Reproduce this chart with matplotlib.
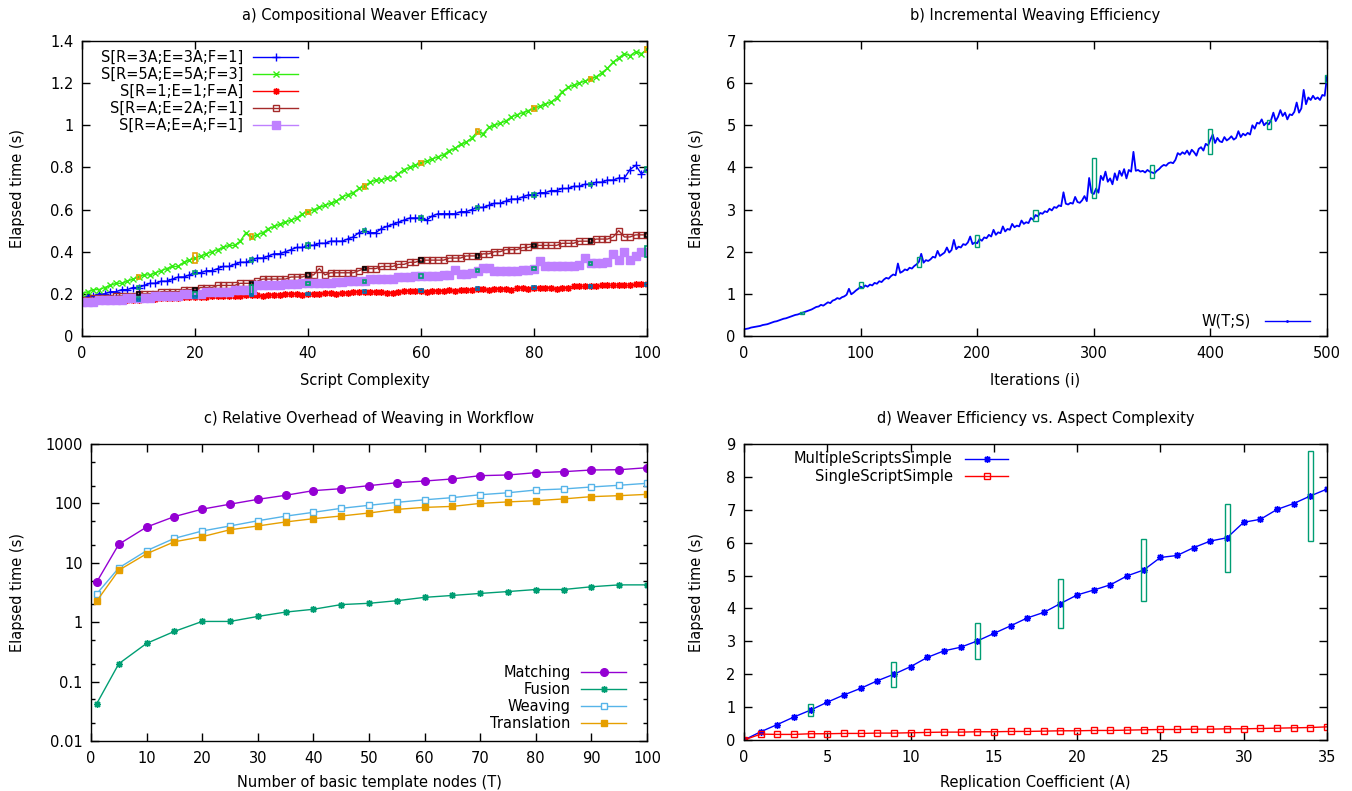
import matplotlib
matplotlib.use("Agg")
import matplotlib.pyplot as plt
import numpy as np
from matplotlib.ticker import FixedLocator, LogLocator, NullFormatter, FuncFormatter

FS = 10.5
plt.rcParams['font.family'] = ['DejaVu Sans']
plt.rcParams['font.size'] = FS

# ---------------- Panel a data ----------------
a_x = list(range(0, 101))
a_labels = ["S[R=3A;E=3A;F=1]", "S[R=5A;E=5A;F=3]", "S[R=1;E=1;F=A]",
            "S[R=A;E=2A;F=1]", "S[R=A;E=A;F=1]"]
a_blue = [0.18,
          0.19, 0.19, 0.20, 0.20, 0.21, 0.21, 0.22, 0.22, 0.23, 0.23,
          0.24, 0.25, 0.25, 0.26, 0.26, 0.27, 0.28, 0.28, 0.29, 0.30,
          0.30, 0.31, 0.31, 0.32, 0.33, 0.33, 0.34, 0.35, 0.35, 0.36,
          0.37, 0.37, 0.38, 0.39, 0.39, 0.40, 0.41, 0.42, 0.42, 0.43,
          0.43, 0.44, 0.44, 0.45, 0.45, 0.45, 0.46, 0.47, 0.49, 0.50,
          0.49, 0.49, 0.51, 0.52, 0.53, 0.54, 0.55, 0.56, 0.56, 0.56,
          0.55, 0.57, 0.58, 0.58, 0.58, 0.58, 0.59, 0.59, 0.60, 0.61,
          0.61, 0.62, 0.63, 0.63, 0.64, 0.65, 0.65, 0.66, 0.67, 0.67,
          0.68, 0.68, 0.69, 0.69, 0.70, 0.70, 0.71, 0.71, 0.72, 0.72,
          0.73, 0.73, 0.74, 0.74, 0.75, 0.75, 0.79, 0.81, 0.77, 0.79]
a_green = [0.20,
           0.21, 0.22, 0.22, 0.23, 0.24, 0.25, 0.25, 0.26, 0.27, 0.28,
           0.29, 0.29, 0.30, 0.31, 0.32, 0.33, 0.33, 0.35, 0.36, 0.37,
           0.38, 0.39, 0.40, 0.41, 0.42, 0.43, 0.43, 0.45, 0.49, 0.47,
           0.48, 0.49, 0.51, 0.52, 0.53, 0.54, 0.55, 0.56, 0.58, 0.59,
           0.60, 0.61, 0.62, 0.63, 0.64, 0.66, 0.67, 0.68, 0.70, 0.71,
           0.73, 0.74, 0.74, 0.75, 0.75, 0.77, 0.79, 0.80, 0.81, 0.82,
           0.83, 0.84, 0.85, 0.86, 0.88, 0.89, 0.91, 0.92, 0.94, 0.97,
           0.96, 0.99, 1.00, 1.01, 1.02, 1.04, 1.05, 1.06, 1.07, 1.08,
           1.09, 1.10, 1.11, 1.13, 1.16, 1.18, 1.19, 1.20, 1.21, 1.22,
           1.23, 1.25, 1.27, 1.30, 1.32, 1.34, 1.33, 1.35, 1.34, 1.36]
a_red = [0.16,
         0.16, 0.16, 0.165, 0.165, 0.165, 0.17, 0.17, 0.17, 0.17, 0.17,
         0.175, 0.175, 0.175, 0.18, 0.18, 0.18, 0.18, 0.185, 0.185, 0.185,
         0.185, 0.185, 0.19, 0.19, 0.19, 0.19, 0.19, 0.19, 0.195, 0.195,
         0.195, 0.19, 0.195, 0.195, 0.195, 0.20, 0.20, 0.20, 0.195, 0.20,
         0.20, 0.20, 0.205, 0.205, 0.20, 0.205, 0.205, 0.21, 0.21, 0.21,
         0.21, 0.21, 0.21, 0.205, 0.205, 0.21, 0.215, 0.215, 0.215, 0.215,
         0.21, 0.215, 0.215, 0.215, 0.22, 0.215, 0.22, 0.22, 0.22, 0.225,
         0.225, 0.22, 0.225, 0.225, 0.225, 0.22, 0.23, 0.23, 0.225, 0.23,
         0.23, 0.23, 0.23, 0.225, 0.23, 0.23, 0.235, 0.235, 0.235, 0.235,
         0.235, 0.24, 0.24, 0.24, 0.24, 0.24, 0.24, 0.245, 0.245, 0.245]
a_brown = [0.17,
           0.17, 0.18, 0.18, 0.18, 0.18, 0.19, 0.19, 0.19, 0.19, 0.20,
           0.20, 0.20, 0.20, 0.21, 0.21, 0.21, 0.21, 0.22, 0.22, 0.22,
           0.23, 0.23, 0.23, 0.24, 0.24, 0.24, 0.24, 0.25, 0.25, 0.25,
           0.26, 0.27, 0.27, 0.27, 0.27, 0.27, 0.28, 0.28, 0.28, 0.29,
           0.29, 0.32, 0.29, 0.30, 0.30, 0.30, 0.30, 0.30, 0.31, 0.32,
           0.32, 0.32, 0.33, 0.33, 0.33, 0.34, 0.34, 0.35, 0.35, 0.36,
           0.36, 0.36, 0.36, 0.36, 0.37, 0.37, 0.37, 0.38, 0.38, 0.38,
           0.39, 0.39, 0.40, 0.40, 0.41, 0.41, 0.41, 0.42, 0.42, 0.43,
           0.43, 0.43, 0.43, 0.43, 0.44, 0.44, 0.44, 0.45, 0.45, 0.45,
           0.46, 0.46, 0.46, 0.47, 0.50, 0.47, 0.47, 0.48, 0.48, 0.48]
a_purple = [0.16,
            0.16, 0.16, 0.17, 0.17, 0.17, 0.17, 0.17, 0.18, 0.18, 0.18,
            0.18, 0.18, 0.19, 0.19, 0.19, 0.19, 0.19, 0.20, 0.20, 0.20,
            0.20, 0.21, 0.21, 0.21, 0.21, 0.21, 0.22, 0.22, 0.22, 0.22,
            0.24, 0.24, 0.24, 0.24, 0.24, 0.245, 0.245, 0.245, 0.25, 0.25,
            0.25, 0.25, 0.25, 0.25, 0.255, 0.255, 0.26, 0.26, 0.26, 0.26,
            0.27, 0.27, 0.27, 0.27, 0.27, 0.28, 0.28, 0.28, 0.285, 0.285,
            0.285, 0.285, 0.285, 0.29, 0.29, 0.315, 0.295, 0.295, 0.30, 0.31,
            0.325, 0.325, 0.31, 0.31, 0.31, 0.31, 0.31, 0.315, 0.315, 0.32,
            0.355, 0.33, 0.33, 0.33, 0.33, 0.33, 0.33, 0.335, 0.37, 0.345,
            0.345, 0.345, 0.35, 0.39, 0.36, 0.40, 0.36, 0.38, 0.40, 0.40]
a_candle_x = [10, 20, 30, 40, 50, 60, 70, 80, 90, 100]
a_green_spread = [0.010, 0.022, 0.012, 0.010, 0.010, 0.010, 0.010, 0.010, 0.010, 0.010]
a_blue_spread = [0.008, 0.008, 0.010, 0.010, 0.008, 0.008, 0.008, 0.008, 0.008, 0.010]
a_brown_spread = [0.007, 0.008, 0.008, 0.008, 0.008, 0.008, 0.008, 0.008, 0.008, 0.008]
a_purple_spread = [0.006, 0.008, 0.020, 0.008, 0.008, 0.008, 0.008, 0.008, 0.008, 0.025]
a_red_spread = [0.006, 0.006, 0.006, 0.006, 0.006, 0.006, 0.006, 0.006, 0.006, 0.006]

# ---------------- Panel b data ----------------
b_iter = list(range(0, 501, 2))
b_time = [
    0.16, 0.17, 0.18, 0.20, 0.21, 0.22, 0.23, 0.24, 0.26, 0.27, 0.28, 0.30, 0.32, 0.34, 0.35, 0.37, 0.39, 0.41, 0.42, 0.44, 0.46, 0.48, 0.50, 0.51, 0.53,
    0.55, 0.57, 0.59, 0.61, 0.63, 0.66, 0.69, 0.70, 0.74, 0.72, 0.76, 0.80, 0.78, 0.84, 0.86, 0.90, 0.88, 0.92, 0.94, 0.98, 1.12, 0.99, 1.03, 1.08, 1.12,
    1.17, 1.14, 1.20, 1.17, 1.22, 1.20, 1.26, 1.24, 1.30, 1.28, 1.34, 1.38, 1.36, 1.42, 1.46, 1.44, 1.72, 1.50, 1.53, 1.58, 1.56, 1.62, 1.60, 1.66, 1.70,
    1.76, 1.95, 1.74, 1.80, 1.78, 1.82, 1.88, 1.86, 2.02, 1.90, 1.94, 1.98, 2.10, 1.98, 2.04, 2.28, 2.06, 2.12, 2.10, 2.18, 2.16, 2.22, 2.36, 2.18, 2.22,
    2.20, 2.30, 2.26, 2.34, 2.32, 2.40, 2.36, 2.52, 2.40, 2.46, 2.44, 2.60, 2.48, 2.54, 2.52, 2.66, 2.58, 2.62, 2.60, 2.74, 2.66, 2.70, 2.68, 2.80, 2.76,
    2.87, 2.84, 2.92, 2.90, 2.96, 2.94, 3.02, 2.98, 3.06, 3.04, 3.10, 3.08, 3.41, 3.14, 3.12, 3.16, 3.14, 3.30, 3.18, 3.16, 3.22, 3.32, 3.20, 3.75, 3.40,
    3.37, 3.50, 3.40, 3.80, 3.70, 3.90, 3.66, 3.74, 3.60, 3.86, 3.70, 3.92, 3.80, 3.96, 3.74, 3.94, 3.90, 4.37, 3.92, 3.94, 3.90, 3.92, 3.88, 3.94, 3.90,
    3.88, 3.86, 3.92, 3.96, 4.02, 4.06, 4.04, 4.10, 4.12, 4.10, 4.18, 4.34, 4.30, 4.36, 4.32, 4.40, 4.30, 4.42, 4.36, 4.28, 4.44, 4.48, 4.40, 4.56, 4.52,
    4.66, 4.78, 4.58, 4.70, 4.62, 4.60, 4.72, 4.64, 4.68, 4.74, 4.66, 4.70, 4.86, 4.72, 4.80, 4.76, 4.82, 4.78, 5.00, 4.92, 5.06, 5.04, 5.14, 5.00, 5.06,
    5.02, 5.12, 5.30, 5.10, 5.20, 5.36, 5.22, 5.30, 5.14, 5.26, 5.24, 5.32, 5.54, 5.30, 5.40, 5.84, 5.50, 5.66, 5.60, 5.70, 5.62, 5.66, 5.60, 5.72, 5.70,
    6.15]
b_candle_x = [50, 100, 150, 200, 250, 300, 350, 400, 450, 500]
b_candle_lo = [0.53, 1.13, 1.63, 2.12, 2.74, 3.27, 3.75, 4.32, 4.90, 6.03]
b_candle_hi = [0.58, 1.29, 1.88, 2.40, 2.99, 4.22, 4.06, 4.90, 5.12, 6.19]

# ---------------- Panel c data ----------------
c_nodes = [1, 5, 10, 15, 20, 25, 30, 35, 40, 45, 50, 55, 60, 65, 70, 75, 80, 85, 90, 95, 100]
c_matching = [4.7, 20.5, 40, 60, 80, 97, 117, 137, 164, 177, 199, 223, 238, 258, 293, 301, 329, 342, 365, 369, 399]
c_fusion = [0.042, 0.20, 0.44, 0.70, 1.03, 1.03, 1.25, 1.48, 1.65, 1.98, 2.08, 2.30, 2.62, 2.82, 3.05, 3.28, 3.55, 3.55, 3.95, 4.25, 4.25]
c_weaving = [2.98, 8.2, 16, 25.8, 34.3, 41.7, 51, 61, 70.8, 82.6, 92.9, 104, 115, 125, 140, 151, 168, 175, 189, 202, 218]
c_translation = [2.25, 7.5, 14.2, 22.6, 27.5, 36, 41.7, 48.7, 55.3, 61.4, 68.9, 79.3, 85.7, 89, 100, 106, 111, 119, 130, 135, 142]
c_labels = ["Matching", "Fusion", "Weaving", "Translation"]

# ---------------- Panel d data ----------------
d_A = list(range(0, 36))
d_multiple = [0.0, 0.25, 0.47, 0.70, 0.91, 1.15, 1.37, 1.57, 1.80, 2.00,
              2.23, 2.51, 2.71, 2.82, 3.01, 3.24, 3.47, 3.71, 3.88, 4.15,
              4.41, 4.56, 4.72, 4.99, 5.17, 5.55, 5.61, 5.85, 6.05, 6.15,
              6.62, 6.71, 7.01, 7.19, 7.42, 7.63]
d_single = [0.0, 0.18, 0.17, 0.17, 0.19, 0.19, 0.20, 0.20, 0.21, 0.21,
            0.22, 0.23, 0.24, 0.24, 0.25, 0.25, 0.26, 0.26, 0.27, 0.28,
            0.28, 0.29, 0.29, 0.30, 0.31, 0.32, 0.32, 0.33, 0.33, 0.34,
            0.34, 0.35, 0.36, 0.37, 0.38, 0.40]
d_candle_x = [4, 9, 14, 19, 24, 29, 34]
d_candle_lo = [0.73, 1.62, 2.45, 3.40, 4.23, 5.12, 6.06]
d_candle_hi = [1.085, 2.36, 3.55, 4.91, 6.10, 7.17, 8.78]
d_labels = ["MultipleScriptsSimple", "SingleScriptSimple"]

# ---------------- figure ----------------
W, H = 1352, 791
fig = plt.figure(figsize=(W / 100, H / 100), dpi=100)


def add(l, t, r, b):
    return fig.add_axes([l / W, 1 - b / H, (r - l) / W, (b - t) / H])


axA = add(82, 41, 647, 336)
axB = add(744, 41, 1327, 336)
axC = add(91, 444, 647, 741)
axD = add(744, 444, 1327, 740)

AST = (8, 2, 0)


def style(ax, title, xlabel, ylx, xly):
    ax.set_title(title, fontsize=FS, pad=15)
    ax.set_xlabel(xlabel, fontsize=FS)
    ax.set_ylabel("Elapsed time (s)", fontsize=FS)
    ax.yaxis.set_label_coords(ylx, 0.5)
    ax.xaxis.set_label_coords(0.5, xly)
    ax.tick_params(which='major', direction='in', top=True, right=True,
                   length=6, width=1, labelsize=FS)
    ax.tick_params(which='minor', direction='in', top=True, right=True,
                   length=3, width=1)
    ax.tick_params(axis='x', pad=7)
    ax.tick_params(axis='y', pad=6)
    for s in ax.spines.values():
        s.set_linewidth(1.0)


def candles(ax, xs, lo, hi, w, color, lw=1.0):
    for x, l, h in zip(xs, lo, hi):
        ax.add_patch(plt.Rectangle((x - w / 2, l), w, h - l, fill=False,
                                   edgecolor=color, linewidth=lw, zorder=5))


def legend(ax, rows, xt, x0, x1, y0, dy):
    for i, (lab, kw) in enumerate(rows):
        y = y0 - i * dy
        ax.text(xt, y, lab, transform=ax.transAxes, ha='right', va='center', fontsize=FS)
        ax.plot([x0, x1], [y, y], transform=ax.transAxes, color=kw['color'],
                lw=kw.get('lw', 1.0), clip_on=False)
        ax.plot([(x0 + x1) / 2], [y], transform=ax.transAxes, color=kw['color'],
                marker=kw['marker'], ms=kw['ms'], mfc=kw.get('mfc', kw['color']),
                mec=kw['color'], mew=kw.get('mew', 1.0), ls='none', clip_on=False)


# ---- panel a ----
ax = axA
sty_a = [
    dict(color='#0000ff', marker='+', ms=6, mew=1.0),
    dict(color='#33ee11', marker='x', ms=5, mew=1.0),
    dict(color='#ff0000', marker=AST, ms=5, mew=1.0),
    dict(color='#a52a2a', marker='s', ms=4.5, mfc='none', mew=1.0),
    dict(color='#bf80ff', marker='s', ms=5.5, mew=1.0),
]
series_a = [a_blue, a_green, a_red, a_brown, a_purple]
for ys, kw in zip(series_a, sty_a):
    ax.plot(a_x, ys, color=kw['color'], lw=1.0, marker=kw['marker'], ms=kw['ms'],
            mfc=kw.get('mfc', kw['color']), mec=kw['color'], mew=kw['mew'])
cand_a = [(a_green, a_green_spread, '#e69f00'), (a_blue, a_blue_spread, '#009e73'),
          (a_brown, a_brown_spread, '#000000'), (a_purple, a_purple_spread, '#009e73'),
          (a_red, a_red_spread, '#0072b2')]
for ys, sp, c in cand_a:
    yv = [ys[a_x.index(x)] for x in a_candle_x]
    candles(ax, a_candle_x, [v - s for v, s in zip(yv, sp)], [v + s for v, s in zip(yv, sp)], 0.7, c, lw=1.2)
ax.set_xlim(0, 100)
ax.set_ylim(0, 1.4)
ax.xaxis.set_major_locator(FixedLocator([0, 20, 40, 60, 80, 100]))
ax.yaxis.set_major_locator(FixedLocator([0, 0.2, 0.4, 0.6, 0.8, 1.0, 1.2, 1.4]))
ax.yaxis.set_major_formatter(FuncFormatter(lambda v, p: f"{v:g}"))
style(ax, "a) Compositional Weaver Efficacy", "Script Complexity", -0.101, -0.125)
legend(ax, list(zip(a_labels, sty_a)), 0.285, 0.303, 0.382, 1 - 16 / 295, 17 / 295)

# ---- panel b ----
ax = axB
ax.plot(b_iter, b_time, color='#0000ff', lw=1.3)
candles(ax, b_candle_x, b_candle_lo, b_candle_hi, 3.5, '#009e73', lw=1.0)
ax.set_xlim(0, 500)
ax.set_ylim(0, 7)
ax.xaxis.set_major_locator(FixedLocator([0, 100, 200, 300, 400, 500]))
ax.yaxis.set_major_locator(FixedLocator(list(range(0, 8))))
style(ax, "b) Incremental Weaving Efficiency", "Iterations (i)", -0.0686, -0.125)
legend(ax, [("W(T;S)", dict(color='#0000ff', marker='.', ms=2))],
       0.870, 0.894, 0.970, 1 - (321 - 41) / 295, 0.06)

# ---- panel c ----
ax = axC
sty_c = [
    dict(color='#9400d3', marker='o', ms=5.5, mew=1.0),
    dict(color='#009e73', marker=AST, ms=5, mew=1.0),
    dict(color='#56b4e9', marker='s', ms=5, mfc='white', mew=1.0),
    dict(color='#e69f00', marker='s', ms=5, mew=1.0),
]
for ys, kw in zip([c_matching, c_fusion, c_weaving, c_translation], sty_c):
    ax.plot(c_nodes, ys, color=kw['color'], lw=1.0, marker=kw['marker'], ms=kw['ms'],
            mfc=kw.get('mfc', kw['color']), mec=kw['color'], mew=kw['mew'])
ax.set_yscale('log')
ax.set_xlim(0, 100)
ax.set_ylim(0.01, 1000)
ax.xaxis.set_major_locator(FixedLocator(list(range(0, 101, 10))))
ax.yaxis.set_major_locator(FixedLocator([0.01, 0.1, 1, 10, 100, 1000]))
ax.yaxis.set_minor_locator(LogLocator(base=10, subs=(2.0, 5.0)))
ax.yaxis.set_minor_formatter(NullFormatter())
ax.yaxis.set_major_formatter(FuncFormatter(lambda v, p: f"{v:g}"))
style(ax, "c) Relative Overhead of Weaving in Workflow", "Number of basic template nodes (T)", -0.119, -0.114)
legend(ax, list(zip(c_labels, sty_c)), 0.863, 0.882, 0.963, 1 - (672 - 444) / 297, 17 / 297)

# ---- panel d ----
ax = axD
sty_d = [
    dict(color='#0000ff', marker=AST, ms=5, mew=1.0),
    dict(color='#ff0000', marker='s', ms=5, mfc='none', mew=1.0),
]
for ys, kw in zip([d_multiple, d_single], sty_d):
    ax.plot(d_A, ys, color=kw['color'], lw=1.0, marker=kw['marker'], ms=kw['ms'],
            mfc=kw.get('mfc', kw['color']), mec=kw['color'], mew=kw['mew'])
candles(ax, d_candle_x, d_candle_lo, d_candle_hi, 0.3, '#009e73', lw=1.0)
ax.set_xlim(0, 35)
ax.set_ylim(0, 9)
ax.xaxis.set_major_locator(FixedLocator([0, 5, 10, 15, 20, 25, 30, 35]))
ax.yaxis.set_major_locator(FixedLocator(list(range(0, 10))))
style(ax, "d) Weaver Efficiency vs. Aspect Complexity", "Replication Coefficient (A)", -0.0686, -0.118)
legend(ax, list(zip(d_labels, sty_d)), 0.358, 0.379, 0.453, 1 - (459 - 444) / 296, 17 / 296)

fig.savefig("out.png", dpi=100)
